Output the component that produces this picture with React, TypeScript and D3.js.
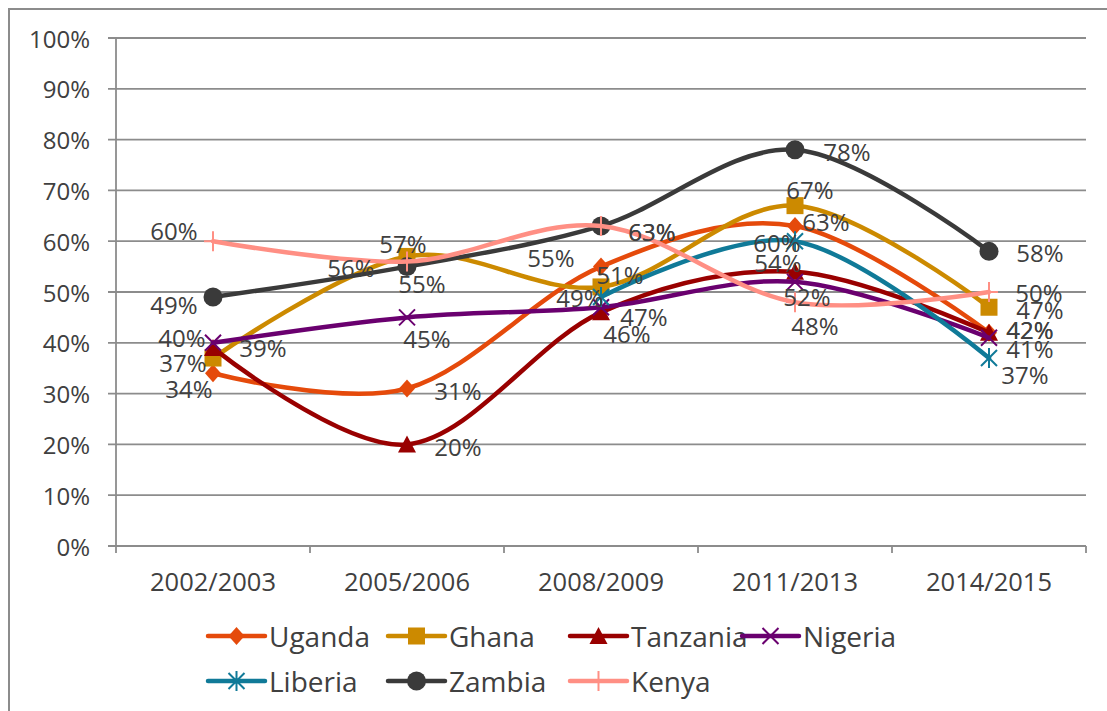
import React from "react";
import * as d3 from "d3";

const categories = ["2002/2003", "2005/2006", "2008/2009", "2011/2013", "2014/2015"];
const yTicks = [0, 0.1, 0.2, 0.3, 0.4, 0.5, 0.6, 0.7, 0.8, 0.9, 1.0];

const seriesNames = ["Uganda", "Ghana", "Tanzania", "Nigeria", "Liberia", "Zambia", "Kenya"];

const uganda = [0.34, 0.31, 0.55, 0.63, 0.42];
const ghana = [0.37, 0.57, 0.51, 0.67, 0.47];
const tanzania = [0.39, 0.2, 0.46, 0.54, 0.42];
const nigeria = [0.4, 0.45, 0.47, 0.52, 0.41];
const liberia: (number | null)[] = [null, null, 0.49, 0.6, 0.37];
const zambia = [0.49, 0.55, 0.63, 0.78, 0.58];
const kenya = [0.6, 0.56, 0.63, 0.48, 0.5];

const seriesValues: (number | null)[][] = [uganda, ghana, tanzania, nigeria, liberia, zambia, kenya];

const seriesColors = ["#E54A0B", "#CC8A00", "#990000", "#6A006F", "#107A98", "#3A3A3A", "#FF8F84"];
const seriesMarkers = ["diamond", "square", "triangle", "x", "star", "circle", "plus"];

// data-label offsets relative to each point (layout only)
const labelOffsets: ([number, number] | null)[][] = [
  [[-24, 15], [51, 2], [-50, -9], [31, -4], [41, -3]],
  [[-30, 4], [-4, -13], [19, -12], [15, -16], [51, 2]],
  [[50, 0], [51, 2], [26, 21], [-17, -9], [41, -3]],
  [[-31, -5], [20, 21], [43, 9], [12, 15], [41, 11]],
  [null, null, [-21, 0], [-18, 1], [36, 16]],
  [[-39, 7], [15, 17], [51, 6], [52, 2], [51, 1]],
  [[-39, -11], [-56, 6], [51, 6], [20, 23], [50, 0]],
];

const W = 1107;
const H = 711;
const left = 116;
const right = 1086;
const top = 38;
const bottom = 546;
const FONT = "'Open Sans', 'DejaVu Sans', sans-serif";
const TEXT = "#404040";
const GRID = "#8C8C8C";

function Marker({ kind, x, y, color }: { kind: string; x: number; y: number; color: string }) {
  switch (kind) {
    case "diamond":
      return <path d={`M${x},${y - 9}L${x + 8},${y}L${x},${y + 9}L${x - 8},${y}Z`} fill={color} />;
    case "square":
      return <rect x={x - 8.5} y={y - 8.5} width={17} height={17} fill={color} />;
    case "triangle":
      return <path d={`M${x},${y - 9}L${x + 9},${y + 8}L${x - 9},${y + 8}Z`} fill={color} />;
    case "x":
      return (
        <path d={`M${x - 8},${y - 8}L${x + 8},${y + 8}M${x - 8},${y + 8}L${x + 8},${y - 8}`} stroke={color} strokeWidth={2} />
      );
    case "star":
      return (
        <path
          d={`M${x - 8},${y - 8}L${x + 8},${y + 8}M${x - 8},${y + 8}L${x + 8},${y - 8}M${x},${y - 10}L${x},${y + 10}`}
          stroke={color}
          strokeWidth={2}
        />
      );
    case "circle":
      return <circle cx={x} cy={y} r={9.5} fill={color} />;
    case "plus":
      return <path d={`M${x - 9},${y}L${x + 9},${y}M${x},${y - 10}L${x},${y + 10}`} stroke={color} strokeWidth={2} />;
    default:
      return null;
  }
}

export default function App() {
  const x = d3.scalePoint<string>().domain(categories).range([left, right]).padding(0.5);
  const band = (right - left) / categories.length;
  const y = d3.scaleLinear().domain([0, 1]).range([bottom, top]);
  const fmt = d3.format(".0%");

  const line = d3
    .line<{ c: string; v: number | null }>()
    .defined((d) => d.v !== null)
    .x((d) => x(d.c) as number)
    .y((d) => y(d.v as number))
    .curve(d3.curveCardinal.tension(0));

  const legendCols = [208, 388, 570, 742];
  const legendRows = [636, 681];

  return (
    <svg width={W} height={H} style={{ position: "absolute", left: 0, top: 0 }} fontFamily={FONT}>
      <rect x={0} y={0} width={W} height={H} fill="#fff" />
      <rect x={9} y={9} width={W + 20} height={H + 20} fill="none" stroke={GRID} strokeWidth={2} />

      {yTicks.map((t) => (
        <g key={t}>
          <line x1={108} x2={right} y1={y(t)} y2={y(t)} stroke={GRID} strokeWidth={1.8} />
          <text x={90} y={y(t)} textAnchor="end" dominantBaseline="central" fontSize={24} fill={TEXT}>
            {fmt(t)}
          </text>
        </g>
      ))}
      <line x1={left} x2={left} y1={top} y2={bottom} stroke={GRID} strokeWidth={1.8} />
      {d3.range(categories.length + 1).map((i) => (
        <line key={i} x1={left + i * band} x2={left + i * band} y1={bottom} y2={bottom + 7} stroke={GRID} strokeWidth={1.8} />
      ))}
      {categories.map((c) => (
        <text key={c} x={x(c)} y={581} textAnchor="middle" dominantBaseline="central" fontSize={25.5} fill={TEXT}>
          {c}
        </text>
      ))}

      {seriesValues.map((vals, si) => {
        const pts = vals.map((v, i) => ({ c: categories[i], v }));
        return (
          <g key={seriesNames[si]}>
            <path d={line(pts) || ""} fill="none" stroke={seriesColors[si]} strokeWidth={4.5} strokeLinecap="round" />
            {pts.map((p, i) =>
              p.v === null ? null : (
                <Marker key={i} kind={seriesMarkers[si]} x={x(p.c) as number} y={y(p.v)} color={seriesColors[si]} />
              )
            )}
          </g>
        );
      })}

      {seriesValues.map((vals, si) =>
        vals.map((v, i) => {
          const off = labelOffsets[si][i];
          if (v === null || !off) return null;
          return (
            <text
              key={`${si}-${i}`}
              x={(x(categories[i]) as number) + off[0]}
              y={y(v) + off[1]}
              textAnchor="middle"
              dominantBaseline="central"
              fontSize={24}
              fill={TEXT}
            >
              {fmt(v)}
            </text>
          );
        })
      )}

      {seriesNames.map((name, si) => {
        const lx = legendCols[si % 4];
        const ly = legendRows[Math.floor(si / 4)];
        return (
          <g key={name}>
            <line x1={lx} x2={lx + 57} y1={ly} y2={ly} stroke={seriesColors[si]} strokeWidth={4.5} strokeLinecap="round" />
            <Marker kind={seriesMarkers[si]} x={lx + 28.5} y={ly} color={seriesColors[si]} />
            <text x={lx + 61} y={ly} dominantBaseline="central" fontSize={28} fill={TEXT}>
              {name}
            </text>
          </g>
        );
      })}
    </svg>
  );
}
